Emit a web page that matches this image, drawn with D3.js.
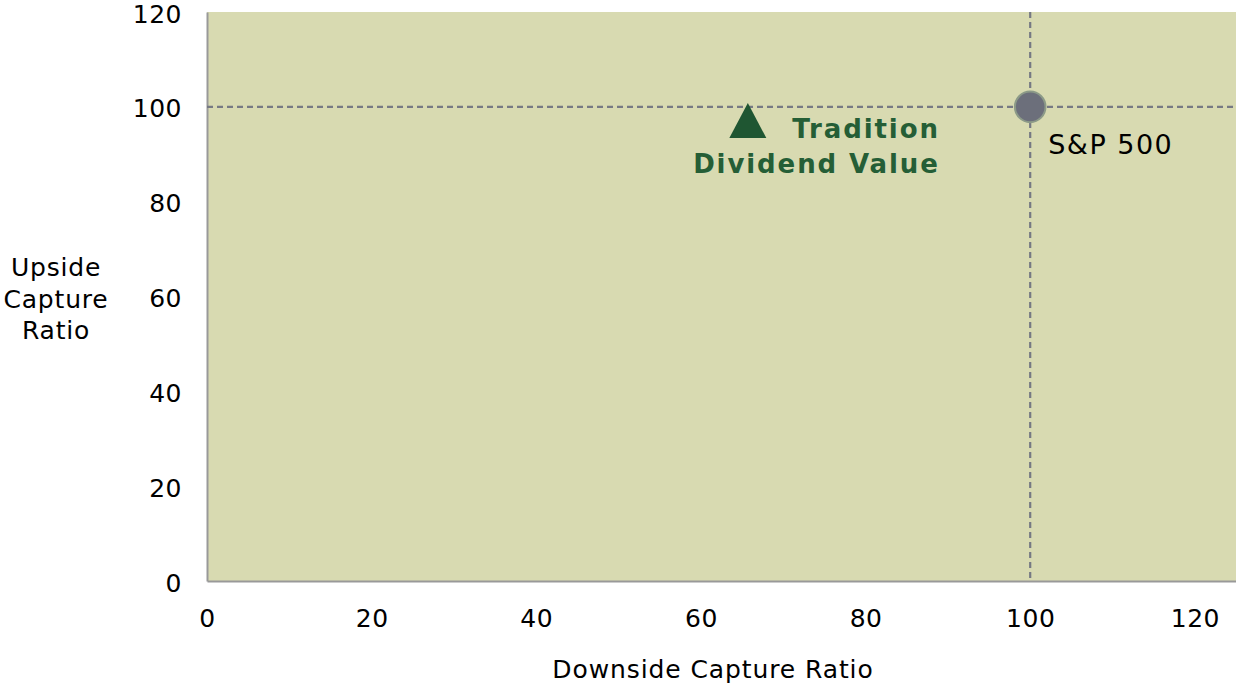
<!DOCTYPE html>
<html>
<head>
<meta charset="utf-8">
<script src="https://cdn.jsdelivr.net/npm/d3@7"></script>
<style>
  body { margin: 0; background: #fff; }
  text { font-family: "DejaVu Sans", Verdana, sans-serif; }
</style>
</head>
<body>
<div id="chart"></div>
<script>
// data
var xTicks = [0, 20, 40, 60, 80, 100, 120];
var yTicks = [0, 20, 40, 60, 80, 100, 120];
var fundName = ["Tradition", "Dividend Value"];
var fundPoint = [65.7, 97.1];   // downside, upside
var benchName = "S&P 500";
var benchPoint = [100, 100];
var refLines = [100];           // reference at 100 on both axes

var W = 1236, H = 685;
var margin = {top: 12, left: 207, right: 0, bottom: 104};
var FONT = '"DejaVu Sans", Verdana, sans-serif';

var svg = d3.select('#chart').append('svg')
  .attr('width', W).attr('height', H);

var x = d3.scaleLinear().domain([0, 125]).range([margin.left, W - margin.right]);
var y = d3.scaleLinear().domain([0, 120]).range([H - margin.bottom, margin.top]);

// plot area
svg.append('rect')
  .attr('x', x(0)).attr('y', y(120))
  .attr('width', x(125) - x(0)).attr('height', y(0) - y(120))
  .attr('fill', '#d8dab1');

// axes (labels only, no ticks)
var xAxis = svg.append('g')
  .attr('transform', 'translate(0,' + y(0) + ')')
  .call(d3.axisBottom(x).tickValues(xTicks).tickSize(0).tickPadding(28));
xAxis.select('.domain').attr('stroke', '#999').attr('stroke-width', 2);
xAxis.selectAll('text').attr('font-size', 25).attr('fill', '#000')
  .attr('letter-spacing', 0.5).style('font-family', FONT);

var yAxis = svg.append('g')
  .attr('transform', 'translate(' + x(0) + ',0)')
  .call(d3.axisLeft(y).tickValues(yTicks).tickSize(0).tickPadding(25));
yAxis.select('.domain').attr('stroke', '#999').attr('stroke-width', 2);
yAxis.selectAll('text').attr('font-size', 25).attr('fill', '#000')
  .attr('dy', '0.4em')
  .attr('letter-spacing', 0.5).style('font-family', FONT);

// dashed reference lines
refLines.forEach(function(v) {
  svg.append('line')
    .attr('x1', x(0)).attr('x2', x(125))
    .attr('y1', y(v)).attr('y2', y(v))
    .attr('stroke', '#767983').attr('stroke-width', 2.2)
    .attr('stroke-dasharray', '6,4');
  svg.append('line')
    .attr('x1', x(v)).attr('x2', x(v))
    .attr('y1', y(120)).attr('y2', y(0))
    .attr('stroke', '#767983').attr('stroke-width', 2.2)
    .attr('stroke-dasharray', '6,4');
});

// fund marker
svg.append('path')
  .attr('d', 'M0,-17.5L18.5,17.5L-18.5,17.5Z')
  .attr('transform', 'translate(' + x(fundPoint[0]) + ',' + y(fundPoint[1]) + ')')
  .attr('fill', '#1f5632');

var lblX = x(fundPoint[0]) + 192;
svg.append('text')
  .attr('x', lblX).attr('y', y(fundPoint[1]))
  .attr('text-anchor', 'end')
  .attr('font-size', 26).attr('font-weight', 'bold').attr('fill', '#255e36')
  .attr('letter-spacing', 1.9)
  .selectAll('tspan').data(fundName).enter().append('tspan')
    .attr('x', lblX)
    .attr('dy', function(d, i) { return i === 0 ? 17.5 : 34.5; })
    .text(function(d) { return d; });

// benchmark marker
svg.append('circle')
  .attr('cx', x(benchPoint[0])).attr('cy', y(benchPoint[1]))
  .attr('r', 15.3)
  .attr('fill', '#6c6f7b').attr('stroke', '#8c9a88').attr('stroke-width', 2);

svg.append('text')
  .attr('x', x(benchPoint[0]) + 18).attr('y', y(benchPoint[1]) + 47)
  .attr('font-size', 27).attr('fill', '#000').attr('letter-spacing', 1.5)
  .text(benchName);

// axis titles
svg.append('text')
  .attr('x', 713).attr('y', 678)
  .attr('text-anchor', 'middle').attr('font-size', 25).attr('letter-spacing', 0.9)
  .text('Downside Capture Ratio');

svg.append('text')
  .attr('text-anchor', 'middle').attr('font-size', 25).attr('letter-spacing', 0.8)
  .selectAll('tspan').data(['Upside', 'Capture', 'Ratio']).enter().append('tspan')
    .attr('x', 56)
    .attr('y', function(d, i) { return 276 + i * 31.5; })
    .text(function(d) { return d; });
</script>
</body>
</html>
